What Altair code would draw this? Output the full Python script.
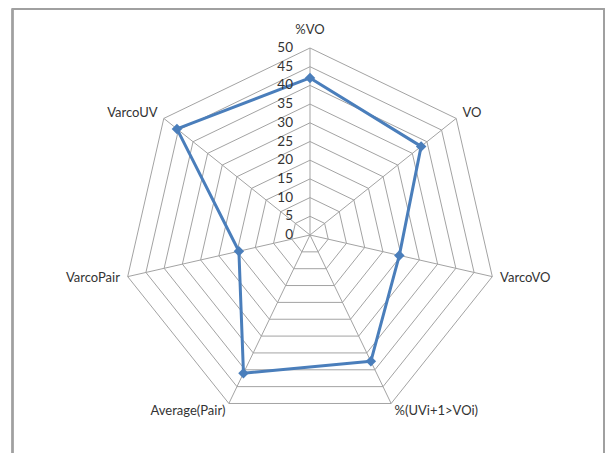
import math
import altair as alt
import pandas as pd

# ---- data ----
categories = ["%VO", "VO", "VarcoVO", "%(UVi+1>VOi)", "Average(Pair)", "VarcoPair", "VarcoUV"]
values = [42, 38, 24.5, 37.5, 41, 19.5, 45.5]
ticks = [0, 5, 10, 15, 20, 25, 30, 35, 40, 45, 50]

N = len(categories)
RMAX = 50

# ---- layout (page margin 8px; keep svg within 597x445 so no overflow) ----
W, H = 597, 445
CX, CY = 302, 227          # centre in plot pixels
PX = 187 / RMAX            # pixels per unit
xdom = [-CX / PX, (W - CX) / PX]
ydom = [-(H - CY) / PX, CY / PX]
LBL_R = RMAX + 8 / PX

FONT = "Lato"
LINE_COL = "#4a7ebb"
GRID_COL = "#a3a3a3"
TXT_COL = "#333333"

xs = alt.Scale(domain=xdom, nice=False, zero=False)
ys = alt.Scale(domain=ydom, nice=False, zero=False)
ANG = "datum.idx * 2 * PI / %d" % N

series = pd.DataFrame({
    "cat": categories + [categories[0]],
    "idx": list(range(N)) + [N],
    "value": values + [values[0]],
})
grid = pd.DataFrame([{"ring": t, "idx": i} for t in ticks[1:] for i in range(N + 1)])
spokes = pd.DataFrame({"idx": list(range(N))})
labels = pd.DataFrame({"cat": categories, "idx": list(range(N))})
tickdf = pd.DataFrame({"t": ticks})

grid_layer = alt.Chart(grid).transform_calculate(
    ang=ANG, x="datum.ring * sin(datum.ang)", y="datum.ring * cos(datum.ang)"
).mark_line(color=GRID_COL, strokeWidth=1).encode(
    x=alt.X("x:Q", scale=xs, axis=None),
    y=alt.Y("y:Q", scale=ys, axis=None),
    detail="ring:N",
    order="idx:Q",
)

spoke_layer = alt.Chart(spokes).transform_calculate(
    ang=ANG, zero="0",
    x=f"{RMAX} * sin(datum.ang)", y=f"{RMAX} * cos(datum.ang)"
).mark_rule(color=GRID_COL, strokeWidth=1).encode(
    x=alt.X("zero:Q", scale=xs, axis=None),
    y=alt.Y("zero:Q", scale=ys, axis=None),
    x2="x:Q",
    y2="y:Q",
)

series_base = alt.Chart(series).transform_calculate(
    ang=ANG, x="datum.value * sin(datum.ang)", y="datum.value * cos(datum.ang)"
)
line_layer = series_base.mark_line(color=LINE_COL, strokeWidth=3, strokeJoin="round").encode(
    x=alt.X("x:Q", scale=xs, axis=None),
    y=alt.Y("y:Q", scale=ys, axis=None),
    order="idx:Q",
)
point_layer = series_base.transform_filter(f"datum.idx < {N}").mark_point(
    shape="diamond", filled=True, size=110, color=LINE_COL, opacity=1
).encode(
    x=alt.X("x:Q", scale=xs, axis=None),
    y=alt.Y("y:Q", scale=ys, axis=None),
)

tick_layer = alt.Chart(tickdf).transform_calculate(zero="0").mark_text(
    align="right", baseline="middle", dx=-17, font=FONT, fontSize=13.5, color=TXT_COL
).encode(
    x=alt.X("zero:Q", scale=xs, axis=None),
    y=alt.Y("t:Q", scale=ys, axis=None),
    text="t:Q",
)

lab_base = alt.Chart(labels).transform_calculate(
    ang=ANG, x=f"{LBL_R} * sin(datum.ang)", y=f"{LBL_R} * cos(datum.ang)"
)
def lab(filt, **kw):
    return lab_base.transform_filter(filt).mark_text(
        font=FONT, fontSize=13, color=TXT_COL, **kw
    ).encode(
        x=alt.X("x:Q", scale=xs, axis=None),
        y=alt.Y("y:Q", scale=ys, axis=None),
        text="cat:N",
    )

lab_top = lab("datum.idx == 0", align="center", baseline="middle", dy=-10)
lab_right = lab(f"datum.idx > 0 && datum.idx <= {N // 2}", align="left", baseline="middle")
lab_left = lab(f"datum.idx > {N // 2}", align="right", baseline="middle")

border_col = "#a0a0a0"
border = alt.Chart(labels).mark_rule(color=border_col, strokeWidth=1.5)
b_left = border.encode(x=alt.value(4.5), y=alt.value(0.5), y2=alt.value(H))
b_right = border.encode(x=alt.value(W - 1), y=alt.value(0.5), y2=alt.value(H))
b_top = border.encode(x=alt.value(4.5), x2=alt.value(W - 1), y=alt.value(0.75))

chart = alt.layer(
    grid_layer, spoke_layer, line_layer, point_layer, tick_layer,
    lab_top, lab_right, lab_left, b_left, b_right, b_top,
).properties(
    width=W, height=H, padding=0,
    autosize=alt.AutoSizeParams(type="none"),
    background="white",
).configure_view(stroke=None)

chart.save("out.html", embed_options={"renderer": "svg", "actions": False})
